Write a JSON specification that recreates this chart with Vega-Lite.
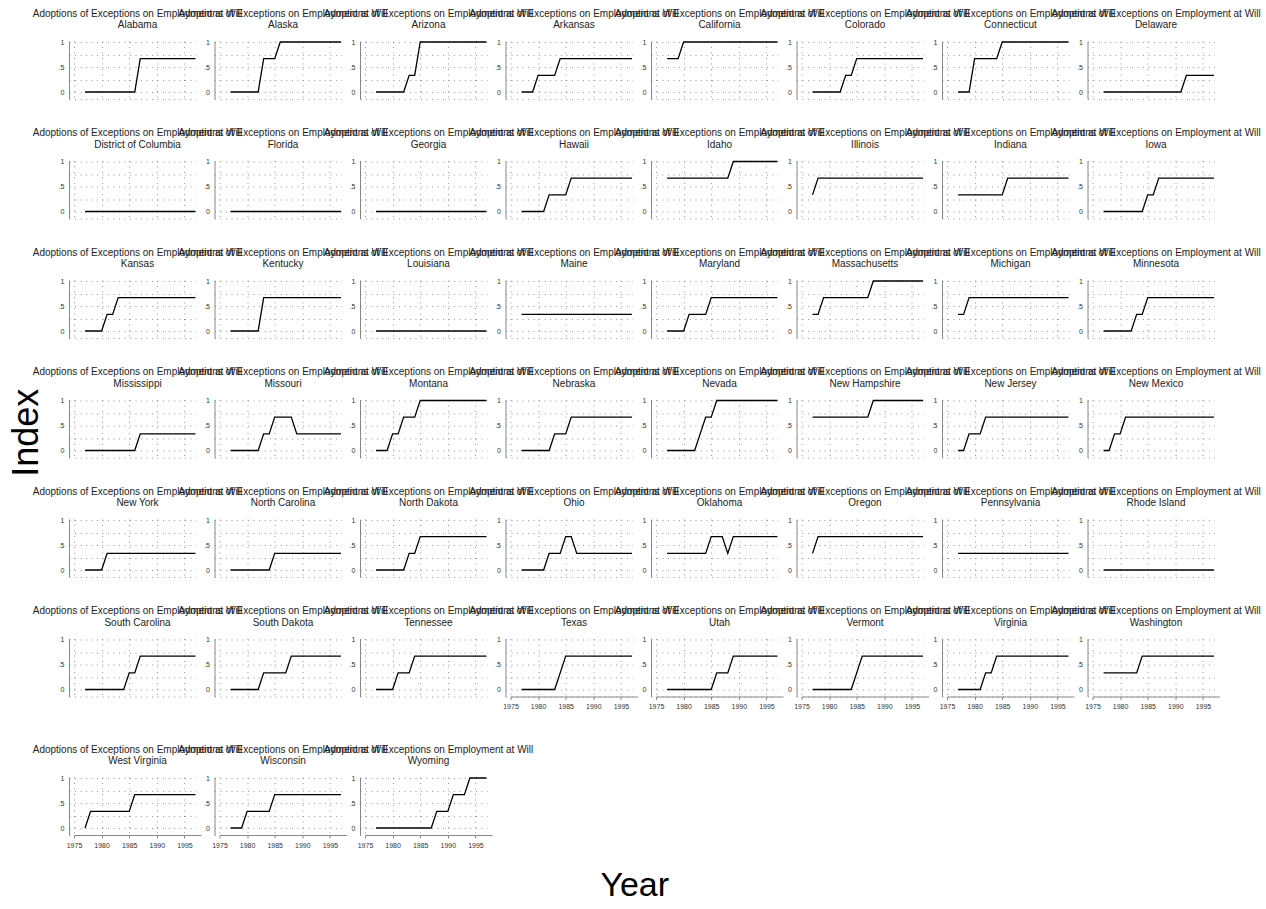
{
"$schema": "https://vega.github.io/schema/vega-lite/v6.json",
"background": "white",
"padding": {"left": 8, "top": 8, "right": 5, "bottom": 5},
"title": {"text": "Year", "orient": "bottom", "anchor": "middle", "frame": "bounds", "font": "Liberation Sans", "fontSize": 34, "fontWeight": "normal", "color": "#000", "offset": 12},
"config": {
"view": {"stroke": null, "continuousWidth": 127, "continuousHeight": 58},
"font": "Liberation Sans",
"line": {"color": "#000", "strokeWidth": 1.3},
"title": {"font": "Liberation Sans", "fontSize": 10, "fontWeight": "normal", "color": "#222", "subtitleFont": "Liberation Sans", "subtitleFontSize": 10, "subtitleColor": "#222", "subtitlePadding": 1.5, "offset": 8, "anchor": "middle", "frame": "group"},
"axis": {"labelFont": "Liberation Sans", "labelFontSize": 7, "labelColor": "#333", "labelPadding": 2, "labelFlush": false, "labelOverlap": false, "tickSize": 3, "tickColor": "#888", "domainColor": "#888", "grid": true, "gridDash": [1, 4.5], "gridColor": "#999"},
"axisX": {"tickCount": 5, "format": "d", "labelPadding": 3},
"axisY": {"offset": 5, "labelExpr": "datum.value == 1 ? '1' : datum.value == 0.5 ? '.5' : datum.value == 0 ? '0' : ''", "tickOpacity": {"condition": {"test": "datum.value == 0 || datum.value == 0.5 || datum.value == 1", "value": 1}, "value": 0}}
},
"data": {"values": [
{"s":"Alabama","t":1977,"v":0},{"s":"Alabama","t":1978,"v":0},{"s":"Alabama","t":1979,"v":0},{"s":"Alabama","t":1980,"v":0},{"s":"Alabama","t":1981,"v":0},{"s":"Alabama","t":1982,"v":0},{"s":"Alabama","t":1983,"v":0},{"s":"Alabama","t":1984,"v":0},{"s":"Alabama","t":1985,"v":0},{"s":"Alabama","t":1986,"v":0},{"s":"Alabama","t":1987,"v":0.667},{"s":"Alabama","t":1988,"v":0.667},{"s":"Alabama","t":1989,"v":0.667},{"s":"Alabama","t":1990,"v":0.667},{"s":"Alabama","t":1991,"v":0.667},{"s":"Alabama","t":1992,"v":0.667},{"s":"Alabama","t":1993,"v":0.667},{"s":"Alabama","t":1994,"v":0.667},{"s":"Alabama","t":1995,"v":0.667},{"s":"Alabama","t":1996,"v":0.667},{"s":"Alabama","t":1997,"v":0.667},
{"s":"Alaska","t":1977,"v":0},{"s":"Alaska","t":1978,"v":0},{"s":"Alaska","t":1979,"v":0},{"s":"Alaska","t":1980,"v":0},{"s":"Alaska","t":1981,"v":0},{"s":"Alaska","t":1982,"v":0},{"s":"Alaska","t":1983,"v":0.667},{"s":"Alaska","t":1984,"v":0.667},{"s":"Alaska","t":1985,"v":0.667},{"s":"Alaska","t":1986,"v":1},{"s":"Alaska","t":1987,"v":1},{"s":"Alaska","t":1988,"v":1},{"s":"Alaska","t":1989,"v":1},{"s":"Alaska","t":1990,"v":1},{"s":"Alaska","t":1991,"v":1},{"s":"Alaska","t":1992,"v":1},{"s":"Alaska","t":1993,"v":1},{"s":"Alaska","t":1994,"v":1},{"s":"Alaska","t":1995,"v":1},{"s":"Alaska","t":1996,"v":1},{"s":"Alaska","t":1997,"v":1},
{"s":"Arizona","t":1977,"v":0},{"s":"Arizona","t":1978,"v":0},{"s":"Arizona","t":1979,"v":0},{"s":"Arizona","t":1980,"v":0},{"s":"Arizona","t":1981,"v":0},{"s":"Arizona","t":1982,"v":0},{"s":"Arizona","t":1983,"v":0.333},{"s":"Arizona","t":1984,"v":0.333},{"s":"Arizona","t":1985,"v":1},{"s":"Arizona","t":1986,"v":1},{"s":"Arizona","t":1987,"v":1},{"s":"Arizona","t":1988,"v":1},{"s":"Arizona","t":1989,"v":1},{"s":"Arizona","t":1990,"v":1},{"s":"Arizona","t":1991,"v":1},{"s":"Arizona","t":1992,"v":1},{"s":"Arizona","t":1993,"v":1},{"s":"Arizona","t":1994,"v":1},{"s":"Arizona","t":1995,"v":1},{"s":"Arizona","t":1996,"v":1},{"s":"Arizona","t":1997,"v":1},
{"s":"Arkansas","t":1977,"v":0},{"s":"Arkansas","t":1978,"v":0},{"s":"Arkansas","t":1979,"v":0},{"s":"Arkansas","t":1980,"v":0.333},{"s":"Arkansas","t":1981,"v":0.333},{"s":"Arkansas","t":1982,"v":0.333},{"s":"Arkansas","t":1983,"v":0.333},{"s":"Arkansas","t":1984,"v":0.667},{"s":"Arkansas","t":1985,"v":0.667},{"s":"Arkansas","t":1986,"v":0.667},{"s":"Arkansas","t":1987,"v":0.667},{"s":"Arkansas","t":1988,"v":0.667},{"s":"Arkansas","t":1989,"v":0.667},{"s":"Arkansas","t":1990,"v":0.667},{"s":"Arkansas","t":1991,"v":0.667},{"s":"Arkansas","t":1992,"v":0.667},{"s":"Arkansas","t":1993,"v":0.667},{"s":"Arkansas","t":1994,"v":0.667},{"s":"Arkansas","t":1995,"v":0.667},{"s":"Arkansas","t":1996,"v":0.667},{"s":"Arkansas","t":1997,"v":0.667},
{"s":"California","t":1977,"v":0.667},{"s":"California","t":1978,"v":0.667},{"s":"California","t":1979,"v":0.667},{"s":"California","t":1980,"v":1},{"s":"California","t":1981,"v":1},{"s":"California","t":1982,"v":1},{"s":"California","t":1983,"v":1},{"s":"California","t":1984,"v":1},{"s":"California","t":1985,"v":1},{"s":"California","t":1986,"v":1},{"s":"California","t":1987,"v":1},{"s":"California","t":1988,"v":1},{"s":"California","t":1989,"v":1},{"s":"California","t":1990,"v":1},{"s":"California","t":1991,"v":1},{"s":"California","t":1992,"v":1},{"s":"California","t":1993,"v":1},{"s":"California","t":1994,"v":1},{"s":"California","t":1995,"v":1},{"s":"California","t":1996,"v":1},{"s":"California","t":1997,"v":1},
{"s":"Colorado","t":1977,"v":0},{"s":"Colorado","t":1978,"v":0},{"s":"Colorado","t":1979,"v":0},{"s":"Colorado","t":1980,"v":0},{"s":"Colorado","t":1981,"v":0},{"s":"Colorado","t":1982,"v":0},{"s":"Colorado","t":1983,"v":0.333},{"s":"Colorado","t":1984,"v":0.333},{"s":"Colorado","t":1985,"v":0.667},{"s":"Colorado","t":1986,"v":0.667},{"s":"Colorado","t":1987,"v":0.667},{"s":"Colorado","t":1988,"v":0.667},{"s":"Colorado","t":1989,"v":0.667},{"s":"Colorado","t":1990,"v":0.667},{"s":"Colorado","t":1991,"v":0.667},{"s":"Colorado","t":1992,"v":0.667},{"s":"Colorado","t":1993,"v":0.667},{"s":"Colorado","t":1994,"v":0.667},{"s":"Colorado","t":1995,"v":0.667},{"s":"Colorado","t":1996,"v":0.667},{"s":"Colorado","t":1997,"v":0.667},
{"s":"Connecticut","t":1977,"v":0},{"s":"Connecticut","t":1978,"v":0},{"s":"Connecticut","t":1979,"v":0},{"s":"Connecticut","t":1980,"v":0.667},{"s":"Connecticut","t":1981,"v":0.667},{"s":"Connecticut","t":1982,"v":0.667},{"s":"Connecticut","t":1983,"v":0.667},{"s":"Connecticut","t":1984,"v":0.667},{"s":"Connecticut","t":1985,"v":1},{"s":"Connecticut","t":1986,"v":1},{"s":"Connecticut","t":1987,"v":1},{"s":"Connecticut","t":1988,"v":1},{"s":"Connecticut","t":1989,"v":1},{"s":"Connecticut","t":1990,"v":1},{"s":"Connecticut","t":1991,"v":1},{"s":"Connecticut","t":1992,"v":1},{"s":"Connecticut","t":1993,"v":1},{"s":"Connecticut","t":1994,"v":1},{"s":"Connecticut","t":1995,"v":1},{"s":"Connecticut","t":1996,"v":1},{"s":"Connecticut","t":1997,"v":1},
{"s":"Delaware","t":1977,"v":0},{"s":"Delaware","t":1978,"v":0},{"s":"Delaware","t":1979,"v":0},{"s":"Delaware","t":1980,"v":0},{"s":"Delaware","t":1981,"v":0},{"s":"Delaware","t":1982,"v":0},{"s":"Delaware","t":1983,"v":0},{"s":"Delaware","t":1984,"v":0},{"s":"Delaware","t":1985,"v":0},{"s":"Delaware","t":1986,"v":0},{"s":"Delaware","t":1987,"v":0},{"s":"Delaware","t":1988,"v":0},{"s":"Delaware","t":1989,"v":0},{"s":"Delaware","t":1990,"v":0},{"s":"Delaware","t":1991,"v":0},{"s":"Delaware","t":1992,"v":0.333},{"s":"Delaware","t":1993,"v":0.333},{"s":"Delaware","t":1994,"v":0.333},{"s":"Delaware","t":1995,"v":0.333},{"s":"Delaware","t":1996,"v":0.333},{"s":"Delaware","t":1997,"v":0.333},
{"s":"District of Columbia","t":1977,"v":0},{"s":"District of Columbia","t":1978,"v":0},{"s":"District of Columbia","t":1979,"v":0},{"s":"District of Columbia","t":1980,"v":0},{"s":"District of Columbia","t":1981,"v":0},{"s":"District of Columbia","t":1982,"v":0},{"s":"District of Columbia","t":1983,"v":0},{"s":"District of Columbia","t":1984,"v":0},{"s":"District of Columbia","t":1985,"v":0},{"s":"District of Columbia","t":1986,"v":0},{"s":"District of Columbia","t":1987,"v":0},{"s":"District of Columbia","t":1988,"v":0},{"s":"District of Columbia","t":1989,"v":0},{"s":"District of Columbia","t":1990,"v":0},{"s":"District of Columbia","t":1991,"v":0},{"s":"District of Columbia","t":1992,"v":0},{"s":"District of Columbia","t":1993,"v":0},{"s":"District of Columbia","t":1994,"v":0},{"s":"District of Columbia","t":1995,"v":0},{"s":"District of Columbia","t":1996,"v":0},{"s":"District of Columbia","t":1997,"v":0},
{"s":"Florida","t":1977,"v":0},{"s":"Florida","t":1978,"v":0},{"s":"Florida","t":1979,"v":0},{"s":"Florida","t":1980,"v":0},{"s":"Florida","t":1981,"v":0},{"s":"Florida","t":1982,"v":0},{"s":"Florida","t":1983,"v":0},{"s":"Florida","t":1984,"v":0},{"s":"Florida","t":1985,"v":0},{"s":"Florida","t":1986,"v":0},{"s":"Florida","t":1987,"v":0},{"s":"Florida","t":1988,"v":0},{"s":"Florida","t":1989,"v":0},{"s":"Florida","t":1990,"v":0},{"s":"Florida","t":1991,"v":0},{"s":"Florida","t":1992,"v":0},{"s":"Florida","t":1993,"v":0},{"s":"Florida","t":1994,"v":0},{"s":"Florida","t":1995,"v":0},{"s":"Florida","t":1996,"v":0},{"s":"Florida","t":1997,"v":0},
{"s":"Georgia","t":1977,"v":0},{"s":"Georgia","t":1978,"v":0},{"s":"Georgia","t":1979,"v":0},{"s":"Georgia","t":1980,"v":0},{"s":"Georgia","t":1981,"v":0},{"s":"Georgia","t":1982,"v":0},{"s":"Georgia","t":1983,"v":0},{"s":"Georgia","t":1984,"v":0},{"s":"Georgia","t":1985,"v":0},{"s":"Georgia","t":1986,"v":0},{"s":"Georgia","t":1987,"v":0},{"s":"Georgia","t":1988,"v":0},{"s":"Georgia","t":1989,"v":0},{"s":"Georgia","t":1990,"v":0},{"s":"Georgia","t":1991,"v":0},{"s":"Georgia","t":1992,"v":0},{"s":"Georgia","t":1993,"v":0},{"s":"Georgia","t":1994,"v":0},{"s":"Georgia","t":1995,"v":0},{"s":"Georgia","t":1996,"v":0},{"s":"Georgia","t":1997,"v":0},
{"s":"Hawaii","t":1977,"v":0},{"s":"Hawaii","t":1978,"v":0},{"s":"Hawaii","t":1979,"v":0},{"s":"Hawaii","t":1980,"v":0},{"s":"Hawaii","t":1981,"v":0},{"s":"Hawaii","t":1982,"v":0.333},{"s":"Hawaii","t":1983,"v":0.333},{"s":"Hawaii","t":1984,"v":0.333},{"s":"Hawaii","t":1985,"v":0.333},{"s":"Hawaii","t":1986,"v":0.667},{"s":"Hawaii","t":1987,"v":0.667},{"s":"Hawaii","t":1988,"v":0.667},{"s":"Hawaii","t":1989,"v":0.667},{"s":"Hawaii","t":1990,"v":0.667},{"s":"Hawaii","t":1991,"v":0.667},{"s":"Hawaii","t":1992,"v":0.667},{"s":"Hawaii","t":1993,"v":0.667},{"s":"Hawaii","t":1994,"v":0.667},{"s":"Hawaii","t":1995,"v":0.667},{"s":"Hawaii","t":1996,"v":0.667},{"s":"Hawaii","t":1997,"v":0.667},
{"s":"Idaho","t":1977,"v":0.667},{"s":"Idaho","t":1978,"v":0.667},{"s":"Idaho","t":1979,"v":0.667},{"s":"Idaho","t":1980,"v":0.667},{"s":"Idaho","t":1981,"v":0.667},{"s":"Idaho","t":1982,"v":0.667},{"s":"Idaho","t":1983,"v":0.667},{"s":"Idaho","t":1984,"v":0.667},{"s":"Idaho","t":1985,"v":0.667},{"s":"Idaho","t":1986,"v":0.667},{"s":"Idaho","t":1987,"v":0.667},{"s":"Idaho","t":1988,"v":0.667},{"s":"Idaho","t":1989,"v":1},{"s":"Idaho","t":1990,"v":1},{"s":"Idaho","t":1991,"v":1},{"s":"Idaho","t":1992,"v":1},{"s":"Idaho","t":1993,"v":1},{"s":"Idaho","t":1994,"v":1},{"s":"Idaho","t":1995,"v":1},{"s":"Idaho","t":1996,"v":1},{"s":"Idaho","t":1997,"v":1},
{"s":"Illinois","t":1977,"v":0.333},{"s":"Illinois","t":1978,"v":0.667},{"s":"Illinois","t":1979,"v":0.667},{"s":"Illinois","t":1980,"v":0.667},{"s":"Illinois","t":1981,"v":0.667},{"s":"Illinois","t":1982,"v":0.667},{"s":"Illinois","t":1983,"v":0.667},{"s":"Illinois","t":1984,"v":0.667},{"s":"Illinois","t":1985,"v":0.667},{"s":"Illinois","t":1986,"v":0.667},{"s":"Illinois","t":1987,"v":0.667},{"s":"Illinois","t":1988,"v":0.667},{"s":"Illinois","t":1989,"v":0.667},{"s":"Illinois","t":1990,"v":0.667},{"s":"Illinois","t":1991,"v":0.667},{"s":"Illinois","t":1992,"v":0.667},{"s":"Illinois","t":1993,"v":0.667},{"s":"Illinois","t":1994,"v":0.667},{"s":"Illinois","t":1995,"v":0.667},{"s":"Illinois","t":1996,"v":0.667},{"s":"Illinois","t":1997,"v":0.667},
{"s":"Indiana","t":1977,"v":0.333},{"s":"Indiana","t":1978,"v":0.333},{"s":"Indiana","t":1979,"v":0.333},{"s":"Indiana","t":1980,"v":0.333},{"s":"Indiana","t":1981,"v":0.333},{"s":"Indiana","t":1982,"v":0.333},{"s":"Indiana","t":1983,"v":0.333},{"s":"Indiana","t":1984,"v":0.333},{"s":"Indiana","t":1985,"v":0.333},{"s":"Indiana","t":1986,"v":0.667},{"s":"Indiana","t":1987,"v":0.667},{"s":"Indiana","t":1988,"v":0.667},{"s":"Indiana","t":1989,"v":0.667},{"s":"Indiana","t":1990,"v":0.667},{"s":"Indiana","t":1991,"v":0.667},{"s":"Indiana","t":1992,"v":0.667},{"s":"Indiana","t":1993,"v":0.667},{"s":"Indiana","t":1994,"v":0.667},{"s":"Indiana","t":1995,"v":0.667},{"s":"Indiana","t":1996,"v":0.667},{"s":"Indiana","t":1997,"v":0.667},
{"s":"Iowa","t":1977,"v":0},{"s":"Iowa","t":1978,"v":0},{"s":"Iowa","t":1979,"v":0},{"s":"Iowa","t":1980,"v":0},{"s":"Iowa","t":1981,"v":0},{"s":"Iowa","t":1982,"v":0},{"s":"Iowa","t":1983,"v":0},{"s":"Iowa","t":1984,"v":0},{"s":"Iowa","t":1985,"v":0.333},{"s":"Iowa","t":1986,"v":0.333},{"s":"Iowa","t":1987,"v":0.667},{"s":"Iowa","t":1988,"v":0.667},{"s":"Iowa","t":1989,"v":0.667},{"s":"Iowa","t":1990,"v":0.667},{"s":"Iowa","t":1991,"v":0.667},{"s":"Iowa","t":1992,"v":0.667},{"s":"Iowa","t":1993,"v":0.667},{"s":"Iowa","t":1994,"v":0.667},{"s":"Iowa","t":1995,"v":0.667},{"s":"Iowa","t":1996,"v":0.667},{"s":"Iowa","t":1997,"v":0.667},
{"s":"Kansas","t":1977,"v":0},{"s":"Kansas","t":1978,"v":0},{"s":"Kansas","t":1979,"v":0},{"s":"Kansas","t":1980,"v":0},{"s":"Kansas","t":1981,"v":0.333},{"s":"Kansas","t":1982,"v":0.333},{"s":"Kansas","t":1983,"v":0.667},{"s":"Kansas","t":1984,"v":0.667},{"s":"Kansas","t":1985,"v":0.667},{"s":"Kansas","t":1986,"v":0.667},{"s":"Kansas","t":1987,"v":0.667},{"s":"Kansas","t":1988,"v":0.667},{"s":"Kansas","t":1989,"v":0.667},{"s":"Kansas","t":1990,"v":0.667},{"s":"Kansas","t":1991,"v":0.667},{"s":"Kansas","t":1992,"v":0.667},{"s":"Kansas","t":1993,"v":0.667},{"s":"Kansas","t":1994,"v":0.667},{"s":"Kansas","t":1995,"v":0.667},{"s":"Kansas","t":1996,"v":0.667},{"s":"Kansas","t":1997,"v":0.667},
{"s":"Kentucky","t":1977,"v":0},{"s":"Kentucky","t":1978,"v":0},{"s":"Kentucky","t":1979,"v":0},{"s":"Kentucky","t":1980,"v":0},{"s":"Kentucky","t":1981,"v":0},{"s":"Kentucky","t":1982,"v":0},{"s":"Kentucky","t":1983,"v":0.667},{"s":"Kentucky","t":1984,"v":0.667},{"s":"Kentucky","t":1985,"v":0.667},{"s":"Kentucky","t":1986,"v":0.667},{"s":"Kentucky","t":1987,"v":0.667},{"s":"Kentucky","t":1988,"v":0.667},{"s":"Kentucky","t":1989,"v":0.667},{"s":"Kentucky","t":1990,"v":0.667},{"s":"Kentucky","t":1991,"v":0.667},{"s":"Kentucky","t":1992,"v":0.667},{"s":"Kentucky","t":1993,"v":0.667},{"s":"Kentucky","t":1994,"v":0.667},{"s":"Kentucky","t":1995,"v":0.667},{"s":"Kentucky","t":1996,"v":0.667},{"s":"Kentucky","t":1997,"v":0.667},
{"s":"Louisiana","t":1977,"v":0},{"s":"Louisiana","t":1978,"v":0},{"s":"Louisiana","t":1979,"v":0},{"s":"Louisiana","t":1980,"v":0},{"s":"Louisiana","t":1981,"v":0},{"s":"Louisiana","t":1982,"v":0},{"s":"Louisiana","t":1983,"v":0},{"s":"Louisiana","t":1984,"v":0},{"s":"Louisiana","t":1985,"v":0},{"s":"Louisiana","t":1986,"v":0},{"s":"Louisiana","t":1987,"v":0},{"s":"Louisiana","t":1988,"v":0},{"s":"Louisiana","t":1989,"v":0},{"s":"Louisiana","t":1990,"v":0},{"s":"Louisiana","t":1991,"v":0},{"s":"Louisiana","t":1992,"v":0},{"s":"Louisiana","t":1993,"v":0},{"s":"Louisiana","t":1994,"v":0},{"s":"Louisiana","t":1995,"v":0},{"s":"Louisiana","t":1996,"v":0},{"s":"Louisiana","t":1997,"v":0},
{"s":"Maine","t":1977,"v":0.333},{"s":"Maine","t":1978,"v":0.333},{"s":"Maine","t":1979,"v":0.333},{"s":"Maine","t":1980,"v":0.333},{"s":"Maine","t":1981,"v":0.333},{"s":"Maine","t":1982,"v":0.333},{"s":"Maine","t":1983,"v":0.333},{"s":"Maine","t":1984,"v":0.333},{"s":"Maine","t":1985,"v":0.333},{"s":"Maine","t":1986,"v":0.333},{"s":"Maine","t":1987,"v":0.333},{"s":"Maine","t":1988,"v":0.333},{"s":"Maine","t":1989,"v":0.333},{"s":"Maine","t":1990,"v":0.333},{"s":"Maine","t":1991,"v":0.333},{"s":"Maine","t":1992,"v":0.333},{"s":"Maine","t":1993,"v":0.333},{"s":"Maine","t":1994,"v":0.333},{"s":"Maine","t":1995,"v":0.333},{"s":"Maine","t":1996,"v":0.333},{"s":"Maine","t":1997,"v":0.333},
{"s":"Maryland","t":1977,"v":0},{"s":"Maryland","t":1978,"v":0},{"s":"Maryland","t":1979,"v":0},{"s":"Maryland","t":1980,"v":0},{"s":"Maryland","t":1981,"v":0.333},{"s":"Maryland","t":1982,"v":0.333},{"s":"Maryland","t":1983,"v":0.333},{"s":"Maryland","t":1984,"v":0.333},{"s":"Maryland","t":1985,"v":0.667},{"s":"Maryland","t":1986,"v":0.667},{"s":"Maryland","t":1987,"v":0.667},{"s":"Maryland","t":1988,"v":0.667},{"s":"Maryland","t":1989,"v":0.667},{"s":"Maryland","t":1990,"v":0.667},{"s":"Maryland","t":1991,"v":0.667},{"s":"Maryland","t":1992,"v":0.667},{"s":"Maryland","t":1993,"v":0.667},{"s":"Maryland","t":1994,"v":0.667},{"s":"Maryland","t":1995,"v":0.667},{"s":"Maryland","t":1996,"v":0.667},{"s":"Maryland","t":1997,"v":0.667},
{"s":"Massachusetts","t":1977,"v":0.333},{"s":"Massachusetts","t":1978,"v":0.333},{"s":"Massachusetts","t":1979,"v":0.667},{"s":"Massachusetts","t":1980,"v":0.667},{"s":"Massachusetts","t":1981,"v":0.667},{"s":"Massachusetts","t":1982,"v":0.667},{"s":"Massachusetts","t":1983,"v":0.667},{"s":"Massachusetts","t":1984,"v":0.667},{"s":"Massachusetts","t":1985,"v":0.667},{"s":"Massachusetts","t":1986,"v":0.667},{"s":"Massachusetts","t":1987,"v":0.667},{"s":"Massachusetts","t":1988,"v":1},{"s":"Massachusetts","t":1989,"v":1},{"s":"Massachusetts","t":1990,"v":1},{"s":"Massachusetts","t":1991,"v":1},{"s":"Massachusetts","t":1992,"v":1},{"s":"Massachusetts","t":1993,"v":1},{"s":"Massachusetts","t":1994,"v":1},{"s":"Massachusetts","t":1995,"v":1},{"s":"Massachusetts","t":1996,"v":1},{"s":"Massachusetts","t":1997,"v":1},
{"s":"Michigan","t":1977,"v":0.333},{"s":"Michigan","t":1978,"v":0.333},{"s":"Michigan","t":1979,"v":0.667},{"s":"Michigan","t":1980,"v":0.667},{"s":"Michigan","t":1981,"v":0.667},{"s":"Michigan","t":1982,"v":0.667},{"s":"Michigan","t":1983,"v":0.667},{"s":"Michigan","t":1984,"v":0.667},{"s":"Michigan","t":1985,"v":0.667},{"s":"Michigan","t":1986,"v":0.667},{"s":"Michigan","t":1987,"v":0.667},{"s":"Michigan","t":1988,"v":0.667},{"s":"Michigan","t":1989,"v":0.667},{"s":"Michigan","t":1990,"v":0.667},{"s":"Michigan","t":1991,"v":0.667},{"s":"Michigan","t":1992,"v":0.667},{"s":"Michigan","t":1993,"v":0.667},{"s":"Michigan","t":1994,"v":0.667},{"s":"Michigan","t":1995,"v":0.667},{"s":"Michigan","t":1996,"v":0.667},{"s":"Michigan","t":1997,"v":0.667},
{"s":"Minnesota","t":1977,"v":0},{"s":"Minnesota","t":1978,"v":0},{"s":"Minnesota","t":1979,"v":0},{"s":"Minnesota","t":1980,"v":0},{"s":"Minnesota","t":1981,"v":0},{"s":"Minnesota","t":1982,"v":0},{"s":"Minnesota","t":1983,"v":0.333},{"s":"Minnesota","t":1984,"v":0.333},{"s":"Minnesota","t":1985,"v":0.667},{"s":"Minnesota","t":1986,"v":0.667},{"s":"Minnesota","t":1987,"v":0.667},{"s":"Minnesota","t":1988,"v":0.667},{"s":"Minnesota","t":1989,"v":0.667},{"s":"Minnesota","t":1990,"v":0.667},{"s":"Minnesota","t":1991,"v":0.667},{"s":"Minnesota","t":1992,"v":0.667},{"s":"Minnesota","t":1993,"v":0.667},{"s":"Minnesota","t":1994,"v":0.667},{"s":"Minnesota","t":1995,"v":0.667},{"s":"Minnesota","t":1996,"v":0.667},{"s":"Minnesota","t":1997,"v":0.667},
{"s":"Mississippi","t":1977,"v":0},{"s":"Mississippi","t":1978,"v":0},{"s":"Mississippi","t":1979,"v":0},{"s":"Mississippi","t":1980,"v":0},{"s":"Mississippi","t":1981,"v":0},{"s":"Mississippi","t":1982,"v":0},{"s":"Mississippi","t":1983,"v":0},{"s":"Mississippi","t":1984,"v":0},{"s":"Mississippi","t":1985,"v":0},{"s":"Mississippi","t":1986,"v":0},{"s":"Mississippi","t":1987,"v":0.333},{"s":"Mississippi","t":1988,"v":0.333},{"s":"Mississippi","t":1989,"v":0.333},{"s":"Mississippi","t":1990,"v":0.333},{"s":"Mississippi","t":1991,"v":0.333},{"s":"Mississippi","t":1992,"v":0.333},{"s":"Mississippi","t":1993,"v":0.333},{"s":"Mississippi","t":1994,"v":0.333},{"s":"Mississippi","t":1995,"v":0.333},{"s":"Mississippi","t":1996,"v":0.333},{"s":"Mississippi","t":1997,"v":0.333},
{"s":"Missouri","t":1977,"v":0},{"s":"Missouri","t":1978,"v":0},{"s":"Missouri","t":1979,"v":0},{"s":"Missouri","t":1980,"v":0},{"s":"Missouri","t":1981,"v":0},{"s":"Missouri","t":1982,"v":0},{"s":"Missouri","t":1983,"v":0.333},{"s":"Missouri","t":1984,"v":0.333},{"s":"Missouri","t":1985,"v":0.667},{"s":"Missouri","t":1986,"v":0.667},{"s":"Missouri","t":1987,"v":0.667},{"s":"Missouri","t":1988,"v":0.667},{"s":"Missouri","t":1989,"v":0.333},{"s":"Missouri","t":1990,"v":0.333},{"s":"Missouri","t":1991,"v":0.333},{"s":"Missouri","t":1992,"v":0.333},{"s":"Missouri","t":1993,"v":0.333},{"s":"Missouri","t":1994,"v":0.333},{"s":"Missouri","t":1995,"v":0.333},{"s":"Missouri","t":1996,"v":0.333},{"s":"Missouri","t":1997,"v":0.333},
{"s":"Montana","t":1977,"v":0},{"s":"Montana","t":1978,"v":0},{"s":"Montana","t":1979,"v":0},{"s":"Montana","t":1980,"v":0.333},{"s":"Montana","t":1981,"v":0.333},{"s":"Montana","t":1982,"v":0.667},{"s":"Montana","t":1983,"v":0.667},{"s":"Montana","t":1984,"v":0.667},{"s":"Montana","t":1985,"v":1},{"s":"Montana","t":1986,"v":1},{"s":"Montana","t":1987,"v":1},{"s":"Montana","t":1988,"v":1},{"s":"Montana","t":1989,"v":1},{"s":"Montana","t":1990,"v":1},{"s":"Montana","t":1991,"v":1},{"s":"Montana","t":1992,"v":1},{"s":"Montana","t":1993,"v":1},{"s":"Montana","t":1994,"v":1},{"s":"Montana","t":1995,"v":1},{"s":"Montana","t":1996,"v":1},{"s":"Montana","t":1997,"v":1},
{"s":"Nebraska","t":1977,"v":0},{"s":"Nebraska","t":1978,"v":0},{"s":"Nebraska","t":1979,"v":0},{"s":"Nebraska","t":1980,"v":0},{"s":"Nebraska","t":1981,"v":0},{"s":"Nebraska","t":1982,"v":0},{"s":"Nebraska","t":1983,"v":0.333},{"s":"Nebraska","t":1984,"v":0.333},{"s":"Nebraska","t":1985,"v":0.333},{"s":"Nebraska","t":1986,"v":0.667},{"s":"Nebraska","t":1987,"v":0.667},{"s":"Nebraska","t":1988,"v":0.667},{"s":"Nebraska","t":1989,"v":0.667},{"s":"Nebraska","t":1990,"v":0.667},{"s":"Nebraska","t":1991,"v":0.667},{"s":"Nebraska","t":1992,"v":0.667},{"s":"Nebraska","t":1993,"v":0.667},{"s":"Nebraska","t":1994,"v":0.667},{"s":"Nebraska","t":1995,"v":0.667},{"s":"Nebraska","t":1996,"v":0.667},{"s":"Nebraska","t":1997,"v":0.667},
{"s":"Nevada","t":1977,"v":0},{"s":"Nevada","t":1978,"v":0},{"s":"Nevada","t":1979,"v":0},{"s":"Nevada","t":1980,"v":0},{"s":"Nevada","t":1981,"v":0},{"s":"Nevada","t":1982,"v":0},{"s":"Nevada","t":1983,"v":0.333},{"s":"Nevada","t":1984,"v":0.667},{"s":"Nevada","t":1985,"v":0.667},{"s":"Nevada","t":1986,"v":1},{"s":"Nevada","t":1987,"v":1},{"s":"Nevada","t":1988,"v":1},{"s":"Nevada","t":1989,"v":1},{"s":"Nevada","t":1990,"v":1},{"s":"Nevada","t":1991,"v":1},{"s":"Nevada","t":1992,"v":1},{"s":"Nevada","t":1993,"v":1},{"s":"Nevada","t":1994,"v":1},{"s":"Nevada","t":1995,"v":1},{"s":"Nevada","t":1996,"v":1},{"s":"Nevada","t":1997,"v":1},
{"s":"New Hampshire","t":1977,"v":0.667},{"s":"New Hampshire","t":1978,"v":0.667},{"s":"New Hampshire","t":1979,"v":0.667},{"s":"New Hampshire","t":1980,"v":0.667},{"s":"New Hampshire","t":1981,"v":0.667},{"s":"New Hampshire","t":1982,"v":0.667},{"s":"New Hampshire","t":1983,"v":0.667},{"s":"New Hampshire","t":1984,"v":0.667},{"s":"New Hampshire","t":1985,"v":0.667},{"s":"New Hampshire","t":1986,"v":0.667},{"s":"New Hampshire","t":1987,"v":0.667},{"s":"New Hampshire","t":1988,"v":1},{"s":"New Hampshire","t":1989,"v":1},{"s":"New Hampshire","t":1990,"v":1},{"s":"New Hampshire","t":1991,"v":1},{"s":"New Hampshire","t":1992,"v":1},{"s":"New Hampshire","t":1993,"v":1},{"s":"New Hampshire","t":1994,"v":1},{"s":"New Hampshire","t":1995,"v":1},{"s":"New Hampshire","t":1996,"v":1},{"s":"New Hampshire","t":1997,"v":1},
{"s":"New Jersey","t":1977,"v":0},{"s":"New Jersey","t":1978,"v":0},{"s":"New Jersey","t":1979,"v":0.333},{"s":"New Jersey","t":1980,"v":0.333},{"s":"New Jersey","t":1981,"v":0.333},{"s":"New Jersey","t":1982,"v":0.667},{"s":"New Jersey","t":1983,"v":0.667},{"s":"New Jersey","t":1984,"v":0.667},{"s":"New Jersey","t":1985,"v":0.667},{"s":"New Jersey","t":1986,"v":0.667},{"s":"New Jersey","t":1987,"v":0.667},{"s":"New Jersey","t":1988,"v":0.667},{"s":"New Jersey","t":1989,"v":0.667},{"s":"New Jersey","t":1990,"v":0.667},{"s":"New Jersey","t":1991,"v":0.667},{"s":"New Jersey","t":1992,"v":0.667},{"s":"New Jersey","t":1993,"v":0.667},{"s":"New Jersey","t":1994,"v":0.667},{"s":"New Jersey","t":1995,"v":0.667},{"s":"New Jersey","t":1996,"v":0.667},{"s":"New Jersey","t":1997,"v":0.667},
{"s":"New Mexico","t":1977,"v":0},{"s":"New Mexico","t":1978,"v":0},{"s":"New Mexico","t":1979,"v":0.333},{"s":"New Mexico","t":1980,"v":0.333},{"s":"New Mexico","t":1981,"v":0.667},{"s":"New Mexico","t":1982,"v":0.667},{"s":"New Mexico","t":1983,"v":0.667},{"s":"New Mexico","t":1984,"v":0.667},{"s":"New Mexico","t":1985,"v":0.667},{"s":"New Mexico","t":1986,"v":0.667},{"s":"New Mexico","t":1987,"v":0.667},{"s":"New Mexico","t":1988,"v":0.667},{"s":"New Mexico","t":1989,"v":0.667},{"s":"New Mexico","t":1990,"v":0.667},{"s":"New Mexico","t":1991,"v":0.667},{"s":"New Mexico","t":1992,"v":0.667},{"s":"New Mexico","t":1993,"v":0.667},{"s":"New Mexico","t":1994,"v":0.667},{"s":"New Mexico","t":1995,"v":0.667},{"s":"New Mexico","t":1996,"v":0.667},{"s":"New Mexico","t":1997,"v":0.667},
{"s":"New York","t":1977,"v":0},{"s":"New York","t":1978,"v":0},{"s":"New York","t":1979,"v":0},{"s":"New York","t":1980,"v":0},{"s":"New York","t":1981,"v":0.333},{"s":"New York","t":1982,"v":0.333},{"s":"New York","t":1983,"v":0.333},{"s":"New York","t":1984,"v":0.333},{"s":"New York","t":1985,"v":0.333},{"s":"New York","t":1986,"v":0.333},{"s":"New York","t":1987,"v":0.333},{"s":"New York","t":1988,"v":0.333},{"s":"New York","t":1989,"v":0.333},{"s":"New York","t":1990,"v":0.333},{"s":"New York","t":1991,"v":0.333},{"s":"New York","t":1992,"v":0.333},{"s":"New York","t":1993,"v":0.333},{"s":"New York","t":1994,"v":0.333},{"s":"New York","t":1995,"v":0.333},{"s":"New York","t":1996,"v":0.333},{"s":"New York","t":1997,"v":0.333},
{"s":"North Carolina","t":1977,"v":0},{"s":"North Carolina","t":1978,"v":0},{"s":"North Carolina","t":1979,"v":0},{"s":"North Carolina","t":1980,"v":0},{"s":"North Carolina","t":1981,"v":0},{"s":"North Carolina","t":1982,"v":0},{"s":"North Carolina","t":1983,"v":0},{"s":"North Carolina","t":1984,"v":0},{"s":"North Carolina","t":1985,"v":0.333},{"s":"North Carolina","t":1986,"v":0.333},{"s":"North Carolina","t":1987,"v":0.333},{"s":"North Carolina","t":1988,"v":0.333},{"s":"North Carolina","t":1989,"v":0.333},{"s":"North Carolina","t":1990,"v":0.333},{"s":"North Carolina","t":1991,"v":0.333},{"s":"North Carolina","t":1992,"v":0.333},{"s":"North Carolina","t":1993,"v":0.333},{"s":"North Carolina","t":1994,"v":0.333},{"s":"North Carolina","t":1995,"v":0.333},{"s":"North Carolina","t":1996,"v":0.333},{"s":"North Carolina","t":1997,"v":0.333},
{"s":"North Dakota","t":1977,"v":0},{"s":"North Dakota","t":1978,"v":0},{"s":"North Dakota","t":1979,"v":0},{"s":"North Dakota","t":1980,"v":0},{"s":"North Dakota","t":1981,"v":0},{"s":"North Dakota","t":1982,"v":0},{"s":"North Dakota","t":1983,"v":0.333},{"s":"North Dakota","t":1984,"v":0.333},{"s":"North Dakota","t":1985,"v":0.667},{"s":"North Dakota","t":1986,"v":0.667},{"s":"North Dakota","t":1987,"v":0.667},{"s":"North Dakota","t":1988,"v":0.667},{"s":"North Dakota","t":1989,"v":0.667},{"s":"North Dakota","t":1990,"v":0.667},{"s":"North Dakota","t":1991,"v":0.667},{"s":"North Dakota","t":1992,"v":0.667},{"s":"North Dakota","t":1993,"v":0.667},{"s":"North Dakota","t":1994,"v":0.667},{"s":"North Dakota","t":1995,"v":0.667},{"s":"North Dakota","t":1996,"v":0.667},{"s":"North Dakota","t":1997,"v":0.667},
{"s":"Ohio","t":1977,"v":0},{"s":"Ohio","t":1978,"v":0},{"s":"Ohio","t":1979,"v":0},{"s":"Ohio","t":1980,"v":0},{"s":"Ohio","t":1981,"v":0},{"s":"Ohio","t":1982,"v":0.333},{"s":"Ohio","t":1983,"v":0.333},{"s":"Ohio","t":1984,"v":0.333},{"s":"Ohio","t":1985,"v":0.667},{"s":"Ohio","t":1986,"v":0.667},{"s":"Ohio","t":1987,"v":0.333},{"s":"Ohio","t":1988,"v":0.333},{"s":"Ohio","t":1989,"v":0.333},{"s":"Ohio","t":1990,"v":0.333},{"s":"Ohio","t":1991,"v":0.333},{"s":"Ohio","t":1992,"v":0.333},{"s":"Ohio","t":1993,"v":0.333},{"s":"Ohio","t":1994,"v":0.333},{"s":"Ohio","t":1995,"v":0.333},{"s":"Ohio","t":1996,"v":0.333},{"s":"Ohio","t":1997,"v":0.333},
{"s":"Oklahoma","t":1977,"v":0.333},{"s":"Oklahoma","t":1978,"v":0.333},{"s":"Oklahoma","t":1979,"v":0.333},{"s":"Oklahoma","t":1980,"v":0.333},{"s":"Oklahoma","t":1981,"v":0.333},{"s":"Oklahoma","t":1982,"v":0.333},{"s":"Oklahoma","t":1983,"v":0.333},{"s":"Oklahoma","t":1984,"v":0.333},{"s":"Oklahoma","t":1985,"v":0.667},{"s":"Oklahoma","t":1986,"v":0.667},{"s":"Oklahoma","t":1987,"v":0.667},{"s":"Oklahoma","t":1988,"v":0.333},{"s":"Oklahoma","t":1989,"v":0.667},{"s":"Oklahoma","t":1990,"v":0.667},{"s":"Oklahoma","t":1991,"v":0.667},{"s":"Oklahoma","t":1992,"v":0.667},{"s":"Oklahoma","t":1993,"v":0.667},{"s":"Oklahoma","t":1994,"v":0.667},{"s":"Oklahoma","t":1995,"v":0.667},{"s":"Oklahoma","t":1996,"v":0.667},{"s":"Oklahoma","t":1997,"v":0.667},
{"s":"Oregon","t":1977,"v":0.333},{"s":"Oregon","t":1978,"v":0.667},{"s":"Oregon","t":1979,"v":0.667},{"s":"Oregon","t":1980,"v":0.667},{"s":"Oregon","t":1981,"v":0.667},{"s":"Oregon","t":1982,"v":0.667},{"s":"Oregon","t":1983,"v":0.667},{"s":"Oregon","t":1984,"v":0.667},{"s":"Oregon","t":1985,"v":0.667},{"s":"Oregon","t":1986,"v":0.667},{"s":"Oregon","t":1987,"v":0.667},{"s":"Oregon","t":1988,"v":0.667},{"s":"Oregon","t":1989,"v":0.667},{"s":"Oregon","t":1990,"v":0.667},{"s":"Oregon","t":1991,"v":0.667},{"s":"Oregon","t":1992,"v":0.667},{"s":"Oregon","t":1993,"v":0.667},{"s":"Oregon","t":1994,"v":0.667},{"s":"Oregon","t":1995,"v":0.667},{"s":"Oregon","t":1996,"v":0.667},{"s":"Oregon","t":1997,"v":0.667},
{"s":"Pennsylvania","t":1977,"v":0.333},{"s":"Pennsylvania","t":1978,"v":0.333},{"s":"Pennsylvania","t":1979,"v":0.333},{"s":"Pennsylvania","t":1980,"v":0.333},{"s":"Pennsylvania","t":1981,"v":0.333},{"s":"Pennsylvania","t":1982,"v":0.333},{"s":"Pennsylvania","t":1983,"v":0.333},{"s":"Pennsylvania","t":1984,"v":0.333},{"s":"Pennsylvania","t":1985,"v":0.333},{"s":"Pennsylvania","t":1986,"v":0.333},{"s":"Pennsylvania","t":1987,"v":0.333},{"s":"Pennsylvania","t":1988,"v":0.333},{"s":"Pennsylvania","t":1989,"v":0.333},{"s":"Pennsylvania","t":1990,"v":0.333},{"s":"Pennsylvania","t":1991,"v":0.333},{"s":"Pennsylvania","t":1992,"v":0.333},{"s":"Pennsylvania","t":1993,"v":0.333},{"s":"Pennsylvania","t":1994,"v":0.333},{"s":"Pennsylvania","t":1995,"v":0.333},{"s":"Pennsylvania","t":1996,"v":0.333},{"s":"Pennsylvania","t":1997,"v":0.333},
{"s":"Rhode Island","t":1977,"v":0},{"s":"Rhode Island","t":1978,"v":0},{"s":"Rhode Island","t":1979,"v":0},{"s":"Rhode Island","t":1980,"v":0},{"s":"Rhode Island","t":1981,"v":0},{"s":"Rhode Island","t":1982,"v":0},{"s":"Rhode Island","t":1983,"v":0},{"s":"Rhode Island","t":1984,"v":0},{"s":"Rhode Island","t":1985,"v":0},{"s":"Rhode Island","t":1986,"v":0},{"s":"Rhode Island","t":1987,"v":0},{"s":"Rhode Island","t":1988,"v":0},{"s":"Rhode Island","t":1989,"v":0},{"s":"Rhode Island","t":1990,"v":0},{"s":"Rhode Island","t":1991,"v":0},{"s":"Rhode Island","t":1992,"v":0},{"s":"Rhode Island","t":1993,"v":0},{"s":"Rhode Island","t":1994,"v":0},{"s":"Rhode Island","t":1995,"v":0},{"s":"Rhode Island","t":1996,"v":0},{"s":"Rhode Island","t":1997,"v":0},
{"s":"South Carolina","t":1977,"v":0},{"s":"South Carolina","t":1978,"v":0},{"s":"South Carolina","t":1979,"v":0},{"s":"South Carolina","t":1980,"v":0},{"s":"South Carolina","t":1981,"v":0},{"s":"South Carolina","t":1982,"v":0},{"s":"South Carolina","t":1983,"v":0},{"s":"South Carolina","t":1984,"v":0},{"s":"South Carolina","t":1985,"v":0.333},{"s":"South Carolina","t":1986,"v":0.333},{"s":"South Carolina","t":1987,"v":0.667},{"s":"South Carolina","t":1988,"v":0.667},{"s":"South Carolina","t":1989,"v":0.667},{"s":"South Carolina","t":1990,"v":0.667},{"s":"South Carolina","t":1991,"v":0.667},{"s":"South Carolina","t":1992,"v":0.667},{"s":"South Carolina","t":1993,"v":0.667},{"s":"South Carolina","t":1994,"v":0.667},{"s":"South Carolina","t":1995,"v":0.667},{"s":"South Carolina","t":1996,"v":0.667},{"s":"South Carolina","t":1997,"v":0.667},
{"s":"South Dakota","t":1977,"v":0},{"s":"South Dakota","t":1978,"v":0},{"s":"South Dakota","t":1979,"v":0},{"s":"South Dakota","t":1980,"v":0},{"s":"South Dakota","t":1981,"v":0},{"s":"South Dakota","t":1982,"v":0},{"s":"South Dakota","t":1983,"v":0.333},{"s":"South Dakota","t":1984,"v":0.333},{"s":"South Dakota","t":1985,"v":0.333},{"s":"South Dakota","t":1986,"v":0.333},{"s":"South Dakota","t":1987,"v":0.333},{"s":"South Dakota","t":1988,"v":0.667},{"s":"South Dakota","t":1989,"v":0.667},{"s":"South Dakota","t":1990,"v":0.667},{"s":"South Dakota","t":1991,"v":0.667},{"s":"South Dakota","t":1992,"v":0.667},{"s":"South Dakota","t":1993,"v":0.667},{"s":"South Dakota","t":1994,"v":0.667},{"s":"South Dakota","t":1995,"v":0.667},{"s":"South Dakota","t":1996,"v":0.667},{"s":"South Dakota","t":1997,"v":0.667},
{"s":"Tennessee","t":1977,"v":0},{"s":"Tennessee","t":1978,"v":0},{"s":"Tennessee","t":1979,"v":0},{"s":"Tennessee","t":1980,"v":0},{"s":"Tennessee","t":1981,"v":0.333},{"s":"Tennessee","t":1982,"v":0.333},{"s":"Tennessee","t":1983,"v":0.333},{"s":"Tennessee","t":1984,"v":0.667},{"s":"Tennessee","t":1985,"v":0.667},{"s":"Tennessee","t":1986,"v":0.667},{"s":"Tennessee","t":1987,"v":0.667},{"s":"Tennessee","t":1988,"v":0.667},{"s":"Tennessee","t":1989,"v":0.667},{"s":"Tennessee","t":1990,"v":0.667},{"s":"Tennessee","t":1991,"v":0.667},{"s":"Tennessee","t":1992,"v":0.667},{"s":"Tennessee","t":1993,"v":0.667},{"s":"Tennessee","t":1994,"v":0.667},{"s":"Tennessee","t":1995,"v":0.667},{"s":"Tennessee","t":1996,"v":0.667},{"s":"Tennessee","t":1997,"v":0.667},
{"s":"Texas","t":1977,"v":0},{"s":"Texas","t":1978,"v":0},{"s":"Texas","t":1979,"v":0},{"s":"Texas","t":1980,"v":0},{"s":"Texas","t":1981,"v":0},{"s":"Texas","t":1982,"v":0},{"s":"Texas","t":1983,"v":0},{"s":"Texas","t":1984,"v":0.333},{"s":"Texas","t":1985,"v":0.667},{"s":"Texas","t":1986,"v":0.667},{"s":"Texas","t":1987,"v":0.667},{"s":"Texas","t":1988,"v":0.667},{"s":"Texas","t":1989,"v":0.667},{"s":"Texas","t":1990,"v":0.667},{"s":"Texas","t":1991,"v":0.667},{"s":"Texas","t":1992,"v":0.667},{"s":"Texas","t":1993,"v":0.667},{"s":"Texas","t":1994,"v":0.667},{"s":"Texas","t":1995,"v":0.667},{"s":"Texas","t":1996,"v":0.667},{"s":"Texas","t":1997,"v":0.667},
{"s":"Utah","t":1977,"v":0},{"s":"Utah","t":1978,"v":0},{"s":"Utah","t":1979,"v":0},{"s":"Utah","t":1980,"v":0},{"s":"Utah","t":1981,"v":0},{"s":"Utah","t":1982,"v":0},{"s":"Utah","t":1983,"v":0},{"s":"Utah","t":1984,"v":0},{"s":"Utah","t":1985,"v":0},{"s":"Utah","t":1986,"v":0.333},{"s":"Utah","t":1987,"v":0.333},{"s":"Utah","t":1988,"v":0.333},{"s":"Utah","t":1989,"v":0.667},{"s":"Utah","t":1990,"v":0.667},{"s":"Utah","t":1991,"v":0.667},{"s":"Utah","t":1992,"v":0.667},{"s":"Utah","t":1993,"v":0.667},{"s":"Utah","t":1994,"v":0.667},{"s":"Utah","t":1995,"v":0.667},{"s":"Utah","t":1996,"v":0.667},{"s":"Utah","t":1997,"v":0.667},
{"s":"Vermont","t":1977,"v":0},{"s":"Vermont","t":1978,"v":0},{"s":"Vermont","t":1979,"v":0},{"s":"Vermont","t":1980,"v":0},{"s":"Vermont","t":1981,"v":0},{"s":"Vermont","t":1982,"v":0},{"s":"Vermont","t":1983,"v":0},{"s":"Vermont","t":1984,"v":0},{"s":"Vermont","t":1985,"v":0.333},{"s":"Vermont","t":1986,"v":0.667},{"s":"Vermont","t":1987,"v":0.667},{"s":"Vermont","t":1988,"v":0.667},{"s":"Vermont","t":1989,"v":0.667},{"s":"Vermont","t":1990,"v":0.667},{"s":"Vermont","t":1991,"v":0.667},{"s":"Vermont","t":1992,"v":0.667},{"s":"Vermont","t":1993,"v":0.667},{"s":"Vermont","t":1994,"v":0.667},{"s":"Vermont","t":1995,"v":0.667},{"s":"Vermont","t":1996,"v":0.667},{"s":"Vermont","t":1997,"v":0.667},
{"s":"Virginia","t":1977,"v":0},{"s":"Virginia","t":1978,"v":0},{"s":"Virginia","t":1979,"v":0},{"s":"Virginia","t":1980,"v":0},{"s":"Virginia","t":1981,"v":0},{"s":"Virginia","t":1982,"v":0.333},{"s":"Virginia","t":1983,"v":0.333},{"s":"Virginia","t":1984,"v":0.667},{"s":"Virginia","t":1985,"v":0.667},{"s":"Virginia","t":1986,"v":0.667},{"s":"Virginia","t":1987,"v":0.667},{"s":"Virginia","t":1988,"v":0.667},{"s":"Virginia","t":1989,"v":0.667},{"s":"Virginia","t":1990,"v":0.667},{"s":"Virginia","t":1991,"v":0.667},{"s":"Virginia","t":1992,"v":0.667},{"s":"Virginia","t":1993,"v":0.667},{"s":"Virginia","t":1994,"v":0.667},{"s":"Virginia","t":1995,"v":0.667},{"s":"Virginia","t":1996,"v":0.667},{"s":"Virginia","t":1997,"v":0.667},
{"s":"Washington","t":1977,"v":0.333},{"s":"Washington","t":1978,"v":0.333},{"s":"Washington","t":1979,"v":0.333},{"s":"Washington","t":1980,"v":0.333},{"s":"Washington","t":1981,"v":0.333},{"s":"Washington","t":1982,"v":0.333},{"s":"Washington","t":1983,"v":0.333},{"s":"Washington","t":1984,"v":0.667},{"s":"Washington","t":1985,"v":0.667},{"s":"Washington","t":1986,"v":0.667},{"s":"Washington","t":1987,"v":0.667},{"s":"Washington","t":1988,"v":0.667},{"s":"Washington","t":1989,"v":0.667},{"s":"Washington","t":1990,"v":0.667},{"s":"Washington","t":1991,"v":0.667},{"s":"Washington","t":1992,"v":0.667},{"s":"Washington","t":1993,"v":0.667},{"s":"Washington","t":1994,"v":0.667},{"s":"Washington","t":1995,"v":0.667},{"s":"Washington","t":1996,"v":0.667},{"s":"Washington","t":1997,"v":0.667},
{"s":"West Virginia","t":1977,"v":0},{"s":"West Virginia","t":1978,"v":0.333},{"s":"West Virginia","t":1979,"v":0.333},{"s":"West Virginia","t":1980,"v":0.333},{"s":"West Virginia","t":1981,"v":0.333},{"s":"West Virginia","t":1982,"v":0.333},{"s":"West Virginia","t":1983,"v":0.333},{"s":"West Virginia","t":1984,"v":0.333},{"s":"West Virginia","t":1985,"v":0.333},{"s":"West Virginia","t":1986,"v":0.667},{"s":"West Virginia","t":1987,"v":0.667},{"s":"West Virginia","t":1988,"v":0.667},{"s":"West Virginia","t":1989,"v":0.667},{"s":"West Virginia","t":1990,"v":0.667},{"s":"West Virginia","t":1991,"v":0.667},{"s":"West Virginia","t":1992,"v":0.667},{"s":"West Virginia","t":1993,"v":0.667},{"s":"West Virginia","t":1994,"v":0.667},{"s":"West Virginia","t":1995,"v":0.667},{"s":"West Virginia","t":1996,"v":0.667},{"s":"West Virginia","t":1997,"v":0.667},
{"s":"Wisconsin","t":1977,"v":0},{"s":"Wisconsin","t":1978,"v":0},{"s":"Wisconsin","t":1979,"v":0},{"s":"Wisconsin","t":1980,"v":0.333},{"s":"Wisconsin","t":1981,"v":0.333},{"s":"Wisconsin","t":1982,"v":0.333},{"s":"Wisconsin","t":1983,"v":0.333},{"s":"Wisconsin","t":1984,"v":0.333},{"s":"Wisconsin","t":1985,"v":0.667},{"s":"Wisconsin","t":1986,"v":0.667},{"s":"Wisconsin","t":1987,"v":0.667},{"s":"Wisconsin","t":1988,"v":0.667},{"s":"Wisconsin","t":1989,"v":0.667},{"s":"Wisconsin","t":1990,"v":0.667},{"s":"Wisconsin","t":1991,"v":0.667},{"s":"Wisconsin","t":1992,"v":0.667},{"s":"Wisconsin","t":1993,"v":0.667},{"s":"Wisconsin","t":1994,"v":0.667},{"s":"Wisconsin","t":1995,"v":0.667},{"s":"Wisconsin","t":1996,"v":0.667},{"s":"Wisconsin","t":1997,"v":0.667},
{"s":"Wyoming","t":1977,"v":0},{"s":"Wyoming","t":1978,"v":0},{"s":"Wyoming","t":1979,"v":0},{"s":"Wyoming","t":1980,"v":0},{"s":"Wyoming","t":1981,"v":0},{"s":"Wyoming","t":1982,"v":0},{"s":"Wyoming","t":1983,"v":0},{"s":"Wyoming","t":1984,"v":0},{"s":"Wyoming","t":1985,"v":0},{"s":"Wyoming","t":1986,"v":0},{"s":"Wyoming","t":1987,"v":0},{"s":"Wyoming","t":1988,"v":0.333},{"s":"Wyoming","t":1989,"v":0.333},{"s":"Wyoming","t":1990,"v":0.333},{"s":"Wyoming","t":1991,"v":0.667},{"s":"Wyoming","t":1992,"v":0.667},{"s":"Wyoming","t":1993,"v":0.667},{"s":"Wyoming","t":1994,"v":1},{"s":"Wyoming","t":1995,"v":1},{"s":"Wyoming","t":1996,"v":1},{"s":"Wyoming","t":1997,"v":1}
]},
"vconcat": [{
"title": {"text": "Index", "orient": "left", "anchor": "middle", "frame": "bounds", "font": "Liberation Sans", "fontSize": 36, "fontWeight": "normal", "color": "#000", "offset": -13},
"spacing": 25.5,
"vconcat": [
{"bounds": "flush", "spacing": 18.5, "hconcat": [
{"transform":[{"filter":{"field":"s","equal":"Alabama"}}],"title":{"text":"Adoptions of Exceptions on Employment at Will","subtitle":"Alabama"},"mark":"line","encoding":{"x":{"field":"t","type":"quantitative","title":null,"scale":{"domain":[1975,1998]},"axis":{"labels":false,"ticks":false,"domain":false}},"y":{"field":"v","type":"quantitative","title":null,"scale":{"domain":[-0.14,1.02]},"axis":{"values":[-0.14,0,0.25,0.5,0.75,1]}}}},
{"transform":[{"filter":{"field":"s","equal":"Alaska"}}],"title":{"text":"Adoptions of Exceptions on Employment at Will","subtitle":"Alaska"},"mark":"line","encoding":{"x":{"field":"t","type":"quantitative","title":null,"scale":{"domain":[1975,1998]},"axis":{"labels":false,"ticks":false,"domain":false}},"y":{"field":"v","type":"quantitative","title":null,"scale":{"domain":[-0.14,1.02]},"axis":{"values":[-0.14,0,0.25,0.5,0.75,1]}}}},
{"transform":[{"filter":{"field":"s","equal":"Arizona"}}],"title":{"text":"Adoptions of Exceptions on Employment at Will","subtitle":"Arizona"},"mark":"line","encoding":{"x":{"field":"t","type":"quantitative","title":null,"scale":{"domain":[1975,1998]},"axis":{"labels":false,"ticks":false,"domain":false}},"y":{"field":"v","type":"quantitative","title":null,"scale":{"domain":[-0.14,1.02]},"axis":{"values":[-0.14,0,0.25,0.5,0.75,1]}}}},
{"transform":[{"filter":{"field":"s","equal":"Arkansas"}}],"title":{"text":"Adoptions of Exceptions on Employment at Will","subtitle":"Arkansas"},"mark":"line","encoding":{"x":{"field":"t","type":"quantitative","title":null,"scale":{"domain":[1975,1998]},"axis":{"labels":false,"ticks":false,"domain":false}},"y":{"field":"v","type":"quantitative","title":null,"scale":{"domain":[-0.14,1.02]},"axis":{"values":[-0.14,0,0.25,0.5,0.75,1]}}}},
{"transform":[{"filter":{"field":"s","equal":"California"}}],"title":{"text":"Adoptions of Exceptions on Employment at Will","subtitle":"California"},"mark":"line","encoding":{"x":{"field":"t","type":"quantitative","title":null,"scale":{"domain":[1975,1998]},"axis":{"labels":false,"ticks":false,"domain":false}},"y":{"field":"v","type":"quantitative","title":null,"scale":{"domain":[-0.14,1.02]},"axis":{"values":[-0.14,0,0.25,0.5,0.75,1]}}}},
{"transform":[{"filter":{"field":"s","equal":"Colorado"}}],"title":{"text":"Adoptions of Exceptions on Employment at Will","subtitle":"Colorado"},"mark":"line","encoding":{"x":{"field":"t","type":"quantitative","title":null,"scale":{"domain":[1975,1998]},"axis":{"labels":false,"ticks":false,"domain":false}},"y":{"field":"v","type":"quantitative","title":null,"scale":{"domain":[-0.14,1.02]},"axis":{"values":[-0.14,0,0.25,0.5,0.75,1]}}}},
{"transform":[{"filter":{"field":"s","equal":"Connecticut"}}],"title":{"text":"Adoptions of Exceptions on Employment at Will","subtitle":"Connecticut"},"mark":"line","encoding":{"x":{"field":"t","type":"quantitative","title":null,"scale":{"domain":[1975,1998]},"axis":{"labels":false,"ticks":false,"domain":false}},"y":{"field":"v","type":"quantitative","title":null,"scale":{"domain":[-0.14,1.02]},"axis":{"values":[-0.14,0,0.25,0.5,0.75,1]}}}},
{"transform":[{"filter":{"field":"s","equal":"Delaware"}}],"title":{"text":"Adoptions of Exceptions on Employment at Will","subtitle":"Delaware"},"mark":"line","encoding":{"x":{"field":"t","type":"quantitative","title":null,"scale":{"domain":[1975,1998]},"axis":{"labels":false,"ticks":false,"domain":false}},"y":{"field":"v","type":"quantitative","title":null,"scale":{"domain":[-0.14,1.02]},"axis":{"values":[-0.14,0,0.25,0.5,0.75,1]}}}}
]},
{"bounds": "flush", "spacing": 18.5, "hconcat": [
{"transform":[{"filter":{"field":"s","equal":"District of Columbia"}}],"title":{"text":"Adoptions of Exceptions on Employment at Will","subtitle":"District of Columbia"},"mark":"line","encoding":{"x":{"field":"t","type":"quantitative","title":null,"scale":{"domain":[1975,1998]},"axis":{"labels":false,"ticks":false,"domain":false}},"y":{"field":"v","type":"quantitative","title":null,"scale":{"domain":[-0.14,1.02]},"axis":{"values":[-0.14,0,0.25,0.5,0.75,1]}}}},
{"transform":[{"filter":{"field":"s","equal":"Florida"}}],"title":{"text":"Adoptions of Exceptions on Employment at Will","subtitle":"Florida"},"mark":"line","encoding":{"x":{"field":"t","type":"quantitative","title":null,"scale":{"domain":[1975,1998]},"axis":{"labels":false,"ticks":false,"domain":false}},"y":{"field":"v","type":"quantitative","title":null,"scale":{"domain":[-0.14,1.02]},"axis":{"values":[-0.14,0,0.25,0.5,0.75,1]}}}},
{"transform":[{"filter":{"field":"s","equal":"Georgia"}}],"title":{"text":"Adoptions of Exceptions on Employment at Will","subtitle":"Georgia"},"mark":"line","encoding":{"x":{"field":"t","type":"quantitative","title":null,"scale":{"domain":[1975,1998]},"axis":{"labels":false,"ticks":false,"domain":false}},"y":{"field":"v","type":"quantitative","title":null,"scale":{"domain":[-0.14,1.02]},"axis":{"values":[-0.14,0,0.25,0.5,0.75,1]}}}},
{"transform":[{"filter":{"field":"s","equal":"Hawaii"}}],"title":{"text":"Adoptions of Exceptions on Employment at Will","subtitle":"Hawaii"},"mark":"line","encoding":{"x":{"field":"t","type":"quantitative","title":null,"scale":{"domain":[1975,1998]},"axis":{"labels":false,"ticks":false,"domain":false}},"y":{"field":"v","type":"quantitative","title":null,"scale":{"domain":[-0.14,1.02]},"axis":{"values":[-0.14,0,0.25,0.5,0.75,1]}}}},
{"transform":[{"filter":{"field":"s","equal":"Idaho"}}],"title":{"text":"Adoptions of Exceptions on Employment at Will","subtitle":"Idaho"},"mark":"line","encoding":{"x":{"field":"t","type":"quantitative","title":null,"scale":{"domain":[1975,1998]},"axis":{"labels":false,"ticks":false,"domain":false}},"y":{"field":"v","type":"quantitative","title":null,"scale":{"domain":[-0.14,1.02]},"axis":{"values":[-0.14,0,0.25,0.5,0.75,1]}}}},
{"transform":[{"filter":{"field":"s","equal":"Illinois"}}],"title":{"text":"Adoptions of Exceptions on Employment at Will","subtitle":"Illinois"},"mark":"line","encoding":{"x":{"field":"t","type":"quantitative","title":null,"scale":{"domain":[1975,1998]},"axis":{"labels":false,"ticks":false,"domain":false}},"y":{"field":"v","type":"quantitative","title":null,"scale":{"domain":[-0.14,1.02]},"axis":{"values":[-0.14,0,0.25,0.5,0.75,1]}}}},
{"transform":[{"filter":{"field":"s","equal":"Indiana"}}],"title":{"text":"Adoptions of Exceptions on Employment at Will","subtitle":"Indiana"},"mark":"line","encoding":{"x":{"field":"t","type":"quantitative","title":null,"scale":{"domain":[1975,1998]},"axis":{"labels":false,"ticks":false,"domain":false}},"y":{"field":"v","type":"quantitative","title":null,"scale":{"domain":[-0.14,1.02]},"axis":{"values":[-0.14,0,0.25,0.5,0.75,1]}}}},
{"transform":[{"filter":{"field":"s","equal":"Iowa"}}],"title":{"text":"Adoptions of Exceptions on Employment at Will","subtitle":"Iowa"},"mark":"line","encoding":{"x":{"field":"t","type":"quantitative","title":null,"scale":{"domain":[1975,1998]},"axis":{"labels":false,"ticks":false,"domain":false}},"y":{"field":"v","type":"quantitative","title":null,"scale":{"domain":[-0.14,1.02]},"axis":{"values":[-0.14,0,0.25,0.5,0.75,1]}}}}
]},
{"bounds": "flush", "spacing": 18.5, "hconcat": [
{"transform":[{"filter":{"field":"s","equal":"Kansas"}}],"title":{"text":"Adoptions of Exceptions on Employment at Will","subtitle":"Kansas"},"mark":"line","encoding":{"x":{"field":"t","type":"quantitative","title":null,"scale":{"domain":[1975,1998]},"axis":{"labels":false,"ticks":false,"domain":false}},"y":{"field":"v","type":"quantitative","title":null,"scale":{"domain":[-0.14,1.02]},"axis":{"values":[-0.14,0,0.25,0.5,0.75,1]}}}},
{"transform":[{"filter":{"field":"s","equal":"Kentucky"}}],"title":{"text":"Adoptions of Exceptions on Employment at Will","subtitle":"Kentucky"},"mark":"line","encoding":{"x":{"field":"t","type":"quantitative","title":null,"scale":{"domain":[1975,1998]},"axis":{"labels":false,"ticks":false,"domain":false}},"y":{"field":"v","type":"quantitative","title":null,"scale":{"domain":[-0.14,1.02]},"axis":{"values":[-0.14,0,0.25,0.5,0.75,1]}}}},
{"transform":[{"filter":{"field":"s","equal":"Louisiana"}}],"title":{"text":"Adoptions of Exceptions on Employment at Will","subtitle":"Louisiana"},"mark":"line","encoding":{"x":{"field":"t","type":"quantitative","title":null,"scale":{"domain":[1975,1998]},"axis":{"labels":false,"ticks":false,"domain":false}},"y":{"field":"v","type":"quantitative","title":null,"scale":{"domain":[-0.14,1.02]},"axis":{"values":[-0.14,0,0.25,0.5,0.75,1]}}}},
{"transform":[{"filter":{"field":"s","equal":"Maine"}}],"title":{"text":"Adoptions of Exceptions on Employment at Will","subtitle":"Maine"},"mark":"line","encoding":{"x":{"field":"t","type":"quantitative","title":null,"scale":{"domain":[1975,1998]},"axis":{"labels":false,"ticks":false,"domain":false}},"y":{"field":"v","type":"quantitative","title":null,"scale":{"domain":[-0.14,1.02]},"axis":{"values":[-0.14,0,0.25,0.5,0.75,1]}}}},
{"transform":[{"filter":{"field":"s","equal":"Maryland"}}],"title":{"text":"Adoptions of Exceptions on Employment at Will","subtitle":"Maryland"},"mark":"line","encoding":{"x":{"field":"t","type":"quantitative","title":null,"scale":{"domain":[1975,1998]},"axis":{"labels":false,"ticks":false,"domain":false}},"y":{"field":"v","type":"quantitative","title":null,"scale":{"domain":[-0.14,1.02]},"axis":{"values":[-0.14,0,0.25,0.5,0.75,1]}}}},
{"transform":[{"filter":{"field":"s","equal":"Massachusetts"}}],"title":{"text":"Adoptions of Exceptions on Employment at Will","subtitle":"Massachusetts"},"mark":"line","encoding":{"x":{"field":"t","type":"quantitative","title":null,"scale":{"domain":[1975,1998]},"axis":{"labels":false,"ticks":false,"domain":false}},"y":{"field":"v","type":"quantitative","title":null,"scale":{"domain":[-0.14,1.02]},"axis":{"values":[-0.14,0,0.25,0.5,0.75,1]}}}},
{"transform":[{"filter":{"field":"s","equal":"Michigan"}}],"title":{"text":"Adoptions of Exceptions on Employment at Will","subtitle":"Michigan"},"mark":"line","encoding":{"x":{"field":"t","type":"quantitative","title":null,"scale":{"domain":[1975,1998]},"axis":{"labels":false,"ticks":false,"domain":false}},"y":{"field":"v","type":"quantitative","title":null,"scale":{"domain":[-0.14,1.02]},"axis":{"values":[-0.14,0,0.25,0.5,0.75,1]}}}},
{"transform":[{"filter":{"field":"s","equal":"Minnesota"}}],"title":{"text":"Adoptions of Exceptions on Employment at Will","subtitle":"Minnesota"},"mark":"line","encoding":{"x":{"field":"t","type":"quantitative","title":null,"scale":{"domain":[1975,1998]},"axis":{"labels":false,"ticks":false,"domain":false}},"y":{"field":"v","type":"quantitative","title":null,"scale":{"domain":[-0.14,1.02]},"axis":{"values":[-0.14,0,0.25,0.5,0.75,1]}}}}
]},
{"bounds": "flush", "spacing": 18.5, "hconcat": [
{"transform":[{"filter":{"field":"s","equal":"Mississippi"}}],"title":{"text":"Adoptions of Exceptions on Employment at Will","subtitle":"Mississippi"},"mark":"line","encoding":{"x":{"field":"t","type":"quantitative","title":null,"scale":{"domain":[1975,1998]},"axis":{"labels":false,"ticks":false,"domain":false}},"y":{"field":"v","type":"quantitative","title":null,"scale":{"domain":[-0.14,1.02]},"axis":{"values":[-0.14,0,0.25,0.5,0.75,1]}}}},
{"transform":[{"filter":{"field":"s","equal":"Missouri"}}],"title":{"text":"Adoptions of Exceptions on Employment at Will","subtitle":"Missouri"},"mark":"line","encoding":{"x":{"field":"t","type":"quantitative","title":null,"scale":{"domain":[1975,1998]},"axis":{"labels":false,"ticks":false,"domain":false}},"y":{"field":"v","type":"quantitative","title":null,"scale":{"domain":[-0.14,1.02]},"axis":{"values":[-0.14,0,0.25,0.5,0.75,1]}}}},
{"transform":[{"filter":{"field":"s","equal":"Montana"}}],"title":{"text":"Adoptions of Exceptions on Employment at Will","subtitle":"Montana"},"mark":"line","encoding":{"x":{"field":"t","type":"quantitative","title":null,"scale":{"domain":[1975,1998]},"axis":{"labels":false,"ticks":false,"domain":false}},"y":{"field":"v","type":"quantitative","title":null,"scale":{"domain":[-0.14,1.02]},"axis":{"values":[-0.14,0,0.25,0.5,0.75,1]}}}},
{"transform":[{"filter":{"field":"s","equal":"Nebraska"}}],"title":{"text":"Adoptions of Exceptions on Employment at Will","subtitle":"Nebraska"},"mark":"line","encoding":{"x":{"field":"t","type":"quantitative","title":null,"scale":{"domain":[1975,1998]},"axis":{"labels":false,"ticks":false,"domain":false}},"y":{"field":"v","type":"quantitative","title":null,"scale":{"domain":[-0.14,1.02]},"axis":{"values":[-0.14,0,0.25,0.5,0.75,1]}}}},
{"transform":[{"filter":{"field":"s","equal":"Nevada"}}],"title":{"text":"Adoptions of Exceptions on Employment at Will","subtitle":"Nevada"},"mark":"line","encoding":{"x":{"field":"t","type":"quantitative","title":null,"scale":{"domain":[1975,1998]},"axis":{"labels":false,"ticks":false,"domain":false}},"y":{"field":"v","type":"quantitative","title":null,"scale":{"domain":[-0.14,1.02]},"axis":{"values":[-0.14,0,0.25,0.5,0.75,1]}}}},
{"transform":[{"filter":{"field":"s","equal":"New Hampshire"}}],"title":{"text":"Adoptions of Exceptions on Employment at Will","subtitle":"New Hampshire"},"mark":"line","encoding":{"x":{"field":"t","type":"quantitative","title":null,"scale":{"domain":[1975,1998]},"axis":{"labels":false,"ticks":false,"domain":false}},"y":{"field":"v","type":"quantitative","title":null,"scale":{"domain":[-0.14,1.02]},"axis":{"values":[-0.14,0,0.25,0.5,0.75,1]}}}},
{"transform":[{"filter":{"field":"s","equal":"New Jersey"}}],"title":{"text":"Adoptions of Exceptions on Employment at Will","subtitle":"New Jersey"},"mark":"line","encoding":{"x":{"field":"t","type":"quantitative","title":null,"scale":{"domain":[1975,1998]},"axis":{"labels":false,"ticks":false,"domain":false}},"y":{"field":"v","type":"quantitative","title":null,"scale":{"domain":[-0.14,1.02]},"axis":{"values":[-0.14,0,0.25,0.5,0.75,1]}}}},
{"transform":[{"filter":{"field":"s","equal":"New Mexico"}}],"title":{"text":"Adoptions of Exceptions on Employment at Will","subtitle":"New Mexico"},"mark":"line","encoding":{"x":{"field":"t","type":"quantitative","title":null,"scale":{"domain":[1975,1998]},"axis":{"labels":false,"ticks":false,"domain":false}},"y":{"field":"v","type":"quantitative","title":null,"scale":{"domain":[-0.14,1.02]},"axis":{"values":[-0.14,0,0.25,0.5,0.75,1]}}}}
]},
{"bounds": "flush", "spacing": 18.5, "hconcat": [
{"transform":[{"filter":{"field":"s","equal":"New York"}}],"title":{"text":"Adoptions of Exceptions on Employment at Will","subtitle":"New York"},"mark":"line","encoding":{"x":{"field":"t","type":"quantitative","title":null,"scale":{"domain":[1975,1998]},"axis":{"labels":false,"ticks":false,"domain":false}},"y":{"field":"v","type":"quantitative","title":null,"scale":{"domain":[-0.14,1.02]},"axis":{"values":[-0.14,0,0.25,0.5,0.75,1]}}}},
{"transform":[{"filter":{"field":"s","equal":"North Carolina"}}],"title":{"text":"Adoptions of Exceptions on Employment at Will","subtitle":"North Carolina"},"mark":"line","encoding":{"x":{"field":"t","type":"quantitative","title":null,"scale":{"domain":[1975,1998]},"axis":{"labels":false,"ticks":false,"domain":false}},"y":{"field":"v","type":"quantitative","title":null,"scale":{"domain":[-0.14,1.02]},"axis":{"values":[-0.14,0,0.25,0.5,0.75,1]}}}},
{"transform":[{"filter":{"field":"s","equal":"North Dakota"}}],"title":{"text":"Adoptions of Exceptions on Employment at Will","subtitle":"North Dakota"},"mark":"line","encoding":{"x":{"field":"t","type":"quantitative","title":null,"scale":{"domain":[1975,1998]},"axis":{"labels":false,"ticks":false,"domain":false}},"y":{"field":"v","type":"quantitative","title":null,"scale":{"domain":[-0.14,1.02]},"axis":{"values":[-0.14,0,0.25,0.5,0.75,1]}}}},
{"transform":[{"filter":{"field":"s","equal":"Ohio"}}],"title":{"text":"Adoptions of Exceptions on Employment at Will","subtitle":"Ohio"},"mark":"line","encoding":{"x":{"field":"t","type":"quantitative","title":null,"scale":{"domain":[1975,1998]},"axis":{"labels":false,"ticks":false,"domain":false}},"y":{"field":"v","type":"quantitative","title":null,"scale":{"domain":[-0.14,1.02]},"axis":{"values":[-0.14,0,0.25,0.5,0.75,1]}}}},
{"transform":[{"filter":{"field":"s","equal":"Oklahoma"}}],"title":{"text":"Adoptions of Exceptions on Employment at Will","subtitle":"Oklahoma"},"mark":"line","encoding":{"x":{"field":"t","type":"quantitative","title":null,"scale":{"domain":[1975,1998]},"axis":{"labels":false,"ticks":false,"domain":false}},"y":{"field":"v","type":"quantitative","title":null,"scale":{"domain":[-0.14,1.02]},"axis":{"values":[-0.14,0,0.25,0.5,0.75,1]}}}},
{"transform":[{"filter":{"field":"s","equal":"Oregon"}}],"title":{"text":"Adoptions of Exceptions on Employment at Will","subtitle":"Oregon"},"mark":"line","encoding":{"x":{"field":"t","type":"quantitative","title":null,"scale":{"domain":[1975,1998]},"axis":{"labels":false,"ticks":false,"domain":false}},"y":{"field":"v","type":"quantitative","title":null,"scale":{"domain":[-0.14,1.02]},"axis":{"values":[-0.14,0,0.25,0.5,0.75,1]}}}},
{"transform":[{"filter":{"field":"s","equal":"Pennsylvania"}}],"title":{"text":"Adoptions of Exceptions on Employment at Will","subtitle":"Pennsylvania"},"mark":"line","encoding":{"x":{"field":"t","type":"quantitative","title":null,"scale":{"domain":[1975,1998]},"axis":{"labels":false,"ticks":false,"domain":false}},"y":{"field":"v","type":"quantitative","title":null,"scale":{"domain":[-0.14,1.02]},"axis":{"values":[-0.14,0,0.25,0.5,0.75,1]}}}},
{"transform":[{"filter":{"field":"s","equal":"Rhode Island"}}],"title":{"text":"Adoptions of Exceptions on Employment at Will","subtitle":"Rhode Island"},"mark":"line","encoding":{"x":{"field":"t","type":"quantitative","title":null,"scale":{"domain":[1975,1998]},"axis":{"labels":false,"ticks":false,"domain":false}},"y":{"field":"v","type":"quantitative","title":null,"scale":{"domain":[-0.14,1.02]},"axis":{"values":[-0.14,0,0.25,0.5,0.75,1]}}}}
]},
{"bounds": "flush", "spacing": 18.5, "hconcat": [
{"transform":[{"filter":{"field":"s","equal":"South Carolina"}}],"title":{"text":"Adoptions of Exceptions on Employment at Will","subtitle":"South Carolina"},"mark":"line","encoding":{"x":{"field":"t","type":"quantitative","title":null,"scale":{"domain":[1975,1998]},"axis":{"labels":false,"ticks":false,"domain":false}},"y":{"field":"v","type":"quantitative","title":null,"scale":{"domain":[-0.14,1.02]},"axis":{"values":[-0.14,0,0.25,0.5,0.75,1]}}}},
{"transform":[{"filter":{"field":"s","equal":"South Dakota"}}],"title":{"text":"Adoptions of Exceptions on Employment at Will","subtitle":"South Dakota"},"mark":"line","encoding":{"x":{"field":"t","type":"quantitative","title":null,"scale":{"domain":[1975,1998]},"axis":{"labels":false,"ticks":false,"domain":false}},"y":{"field":"v","type":"quantitative","title":null,"scale":{"domain":[-0.14,1.02]},"axis":{"values":[-0.14,0,0.25,0.5,0.75,1]}}}},
{"transform":[{"filter":{"field":"s","equal":"Tennessee"}}],"title":{"text":"Adoptions of Exceptions on Employment at Will","subtitle":"Tennessee"},"mark":"line","encoding":{"x":{"field":"t","type":"quantitative","title":null,"scale":{"domain":[1975,1998]},"axis":{"labels":false,"ticks":false,"domain":false}},"y":{"field":"v","type":"quantitative","title":null,"scale":{"domain":[-0.14,1.02]},"axis":{"values":[-0.14,0,0.25,0.5,0.75,1]}}}},
{"transform":[{"filter":{"field":"s","equal":"Texas"}}],"title":{"text":"Adoptions of Exceptions on Employment at Will","subtitle":"Texas"},"mark":"line","encoding":{"x":{"field":"t","type":"quantitative","title":null,"scale":{"domain":[1975,1998]},"axis":{"minExtent":22}},"y":{"field":"v","type":"quantitative","title":null,"scale":{"domain":[-0.14,1.02]},"axis":{"values":[-0.14,0,0.25,0.5,0.75,1]}}}},
{"transform":[{"filter":{"field":"s","equal":"Utah"}}],"title":{"text":"Adoptions of Exceptions on Employment at Will","subtitle":"Utah"},"mark":"line","encoding":{"x":{"field":"t","type":"quantitative","title":null,"scale":{"domain":[1975,1998]},"axis":{"minExtent":22}},"y":{"field":"v","type":"quantitative","title":null,"scale":{"domain":[-0.14,1.02]},"axis":{"values":[-0.14,0,0.25,0.5,0.75,1]}}}},
{"transform":[{"filter":{"field":"s","equal":"Vermont"}}],"title":{"text":"Adoptions of Exceptions on Employment at Will","subtitle":"Vermont"},"mark":"line","encoding":{"x":{"field":"t","type":"quantitative","title":null,"scale":{"domain":[1975,1998]},"axis":{"minExtent":22}},"y":{"field":"v","type":"quantitative","title":null,"scale":{"domain":[-0.14,1.02]},"axis":{"values":[-0.14,0,0.25,0.5,0.75,1]}}}},
{"transform":[{"filter":{"field":"s","equal":"Virginia"}}],"title":{"text":"Adoptions of Exceptions on Employment at Will","subtitle":"Virginia"},"mark":"line","encoding":{"x":{"field":"t","type":"quantitative","title":null,"scale":{"domain":[1975,1998]},"axis":{"minExtent":22}},"y":{"field":"v","type":"quantitative","title":null,"scale":{"domain":[-0.14,1.02]},"axis":{"values":[-0.14,0,0.25,0.5,0.75,1]}}}},
{"transform":[{"filter":{"field":"s","equal":"Washington"}}],"title":{"text":"Adoptions of Exceptions on Employment at Will","subtitle":"Washington"},"mark":"line","encoding":{"x":{"field":"t","type":"quantitative","title":null,"scale":{"domain":[1975,1998]},"axis":{"minExtent":22}},"y":{"field":"v","type":"quantitative","title":null,"scale":{"domain":[-0.14,1.02]},"axis":{"values":[-0.14,0,0.25,0.5,0.75,1]}}}}
]},
{"bounds": "flush", "spacing": 18.5, "hconcat": [
{"transform":[{"filter":{"field":"s","equal":"West Virginia"}}],"title":{"text":"Adoptions of Exceptions on Employment at Will","subtitle":"West Virginia"},"mark":"line","encoding":{"x":{"field":"t","type":"quantitative","title":null,"scale":{"domain":[1975,1998]},"axis":{"minExtent":22}},"y":{"field":"v","type":"quantitative","title":null,"scale":{"domain":[-0.14,1.02]},"axis":{"values":[-0.14,0,0.25,0.5,0.75,1]}}}},
{"transform":[{"filter":{"field":"s","equal":"Wisconsin"}}],"title":{"text":"Adoptions of Exceptions on Employment at Will","subtitle":"Wisconsin"},"mark":"line","encoding":{"x":{"field":"t","type":"quantitative","title":null,"scale":{"domain":[1975,1998]},"axis":{"minExtent":22}},"y":{"field":"v","type":"quantitative","title":null,"scale":{"domain":[-0.14,1.02]},"axis":{"values":[-0.14,0,0.25,0.5,0.75,1]}}}},
{"transform":[{"filter":{"field":"s","equal":"Wyoming"}}],"title":{"text":"Adoptions of Exceptions on Employment at Will","subtitle":"Wyoming"},"mark":"line","encoding":{"x":{"field":"t","type":"quantitative","title":null,"scale":{"domain":[1975,1998]},"axis":{"minExtent":22}},"y":{"field":"v","type":"quantitative","title":null,"scale":{"domain":[-0.14,1.02]},"axis":{"values":[-0.14,0,0.25,0.5,0.75,1]}}}}
]}
]
}]
}
